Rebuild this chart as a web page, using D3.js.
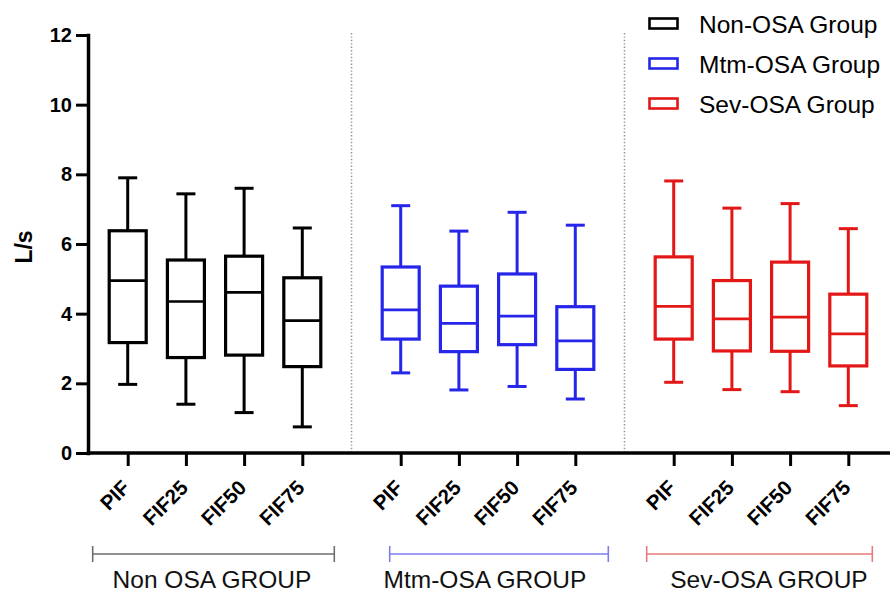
<!DOCTYPE html>
<html>
<head>
<meta charset="utf-8">
<script src="https://cdn.jsdelivr.net/npm/d3@7/dist/d3.min.js"></script>
<style>
  html, body { margin: 0; padding: 0; background: #fff; }
  svg { display: block; }
</style>
</head>
<body>
<svg id="chart"></svg>
<script>
// ---- data ----
const groups = ['Non OSA GROUP', 'Mtm-OSA GROUP', 'Sev-OSA GROUP'];
const legendNames = ['Non-OSA Group', 'Mtm-OSA Group', 'Sev-OSA Group'];
const metrics = ['PIF', 'FIF25', 'FIF50', 'FIF75'];
const yTicks = [0, 2, 4, 6, 8, 10, 12];

// [min, q1, median, q3, max] per metric
const nonStats = [
  [1.97, 3.17, 4.95, 6.38, 7.90],
  [1.40, 2.74, 4.35, 5.54, 7.44],
  [1.16, 2.81, 4.61, 5.65, 7.60],
  [0.75, 2.48, 3.80, 5.03, 6.46],
];
const mtmStats = [
  [2.30, 3.27, 4.11, 5.34, 7.10],
  [1.81, 2.91, 3.72, 4.79, 6.37],
  [1.91, 3.11, 3.93, 5.14, 6.91],
  [1.55, 2.40, 3.22, 4.20, 6.54],
];
const sevStats = [
  [2.03, 3.27, 4.21, 5.63, 7.81],
  [1.82, 2.93, 3.85, 4.95, 7.03],
  [1.76, 2.92, 3.90, 5.48, 7.16],
  [1.36, 2.50, 3.42, 4.56, 6.44],
];

// ---- styling / layout ----
const W = 890, H = 594;
const colors = ['#000000', '#2626ea', '#e41717'];
const bracketColors = ['#6e6e6e', '#7d7df0', '#ea7a7a'];
const bracketPad = [[-35, 32], [-11, 33], [-27, 24]];  // brackets don't sit symmetric in the original
const labelShift = [-3, -3, 8];
const FONT = '"Liberation Sans", Arial, sans-serif';

const allStats = [nonStats, mtmStats, sevStats];

const svg = d3.select('#chart').attr('width', W).attr('height', H)
  .style('font-family', FONT);

const y = d3.scaleLinear().domain([0, 12]).range([453, 35]);
const xGroup = d3.scaleBand().domain(groups).range([78.5, 897.5]);
const xInner = d3.scalePoint().domain(metrics).range([-87.3, 87.3]);
const gx = g => xGroup(g) + xGroup.bandwidth() / 2;

// separators between groups
svg.append('g').selectAll('line').data(groups.slice(1)).join('line')
  .attr('x1', d => xGroup(d)).attr('x2', d => xGroup(d))
  .attr('y1', y(12) - 2).attr('y2', y(0))
  .attr('stroke', '#9a9a9a').attr('stroke-width', 1.6)
  .attr('stroke-dasharray', '1.4,2');

// y axis
const yAxis = svg.append('g').attr('transform', 'translate(88,0)')
  .call(d3.axisLeft(y).tickValues(yTicks).tickSize(12).tickSizeOuter(0).tickPadding(4));
yAxis.select('.domain').attr('stroke-width', 3.5).attr('stroke-linecap', 'square');
yAxis.selectAll('.tick line').attr('stroke-width', 3);
yAxis.selectAll('.tick text').attr('font-size', 20).attr('font-weight', 700)
  .attr('font-family', FONT).attr('fill', '#000');

svg.append('text')
  .attr('transform', `translate(32,${(y(12) + y(0)) / 2 + 3}) rotate(-90)`)
  .attr('text-anchor', 'middle')
  .attr('font-size', 23).attr('font-weight', 700)
  .text('L/s');

// x axis line
svg.append('line')
  .attr('x1', 87).attr('x2', W).attr('y1', y(0)).attr('y2', y(0))
  .attr('stroke', '#000').attr('stroke-width', 3.5);

// x axis per group
groups.forEach(gname => {
  const ax = svg.append('g').attr('transform', `translate(${gx(gname)},${y(0)})`)
    .call(d3.axisBottom(xInner).tickSize(13).tickSizeOuter(0));
  ax.select('.domain').remove();
  ax.selectAll('.tick line').attr('stroke-width', 3);
  ax.selectAll('.tick text')
    .attr('x', 0).attr('y', 0).attr('dy', 0)
    .attr('transform', 'translate(3,36) rotate(-45)')
    .style('text-anchor', 'end')
    .attr('font-size', 20.5).attr('font-weight', 700)
    .attr('font-family', FONT).attr('fill', '#000');
});

// boxes
const boxW = 37, capW = 19;
groups.forEach((gname, gi) => {
  const col = colors[gi];
  const sel = svg.append('g').selectAll('g')
    .data(allStats[gi].map((s, i) => ({ m: metrics[i], s })))
    .join('g')
    .attr('transform', d => `translate(${gx(gname) + xInner(d.m)},0)`);

  // whiskers
  sel.append('line').attr('x1', 0).attr('x2', 0)
    .attr('y1', d => y(d.s[0])).attr('y2', d => y(d.s[1]))
    .attr('stroke', col).attr('stroke-width', 3);
  sel.append('line').attr('x1', 0).attr('x2', 0)
    .attr('y1', d => y(d.s[3])).attr('y2', d => y(d.s[4]))
    .attr('stroke', col).attr('stroke-width', 3);
  // caps
  sel.append('line').attr('x1', -capW / 2).attr('x2', capW / 2)
    .attr('y1', d => y(d.s[0])).attr('y2', d => y(d.s[0]))
    .attr('stroke', col).attr('stroke-width', 3);
  sel.append('line').attr('x1', -capW / 2).attr('x2', capW / 2)
    .attr('y1', d => y(d.s[4])).attr('y2', d => y(d.s[4]))
    .attr('stroke', col).attr('stroke-width', 3);
  // box
  sel.append('rect')
    .attr('x', -boxW / 2).attr('width', boxW)
    .attr('y', d => y(d.s[3])).attr('height', d => y(d.s[1]) - y(d.s[3]))
    .attr('fill', 'none').attr('stroke', col).attr('stroke-width', 3.2);
  // median
  sel.append('line').attr('x1', -boxW / 2).attr('x2', boxW / 2)
    .attr('y1', d => y(d.s[2])).attr('y2', d => y(d.s[2]))
    .attr('stroke', col).attr('stroke-width', 2.6);
});

// group brackets and labels
const bY = 554;
groups.forEach((gname, gi) => {
  const x0 = gx(gname) + xInner(metrics[0]) + bracketPad[gi][0];
  const x1 = gx(gname) + xInner(metrics[metrics.length - 1]) + bracketPad[gi][1];
  const c = bracketColors[gi];
  const b = svg.append('g').attr('stroke', c).attr('stroke-width', 1.6);
  b.append('line').attr('x1', x0).attr('x2', x1).attr('y1', bY).attr('y2', bY);
  b.append('line').attr('x1', x0).attr('x2', x0).attr('y1', bY - 8).attr('y2', bY + 8);
  b.append('line').attr('x1', x1).attr('x2', x1).attr('y1', bY - 8).attr('y2', bY + 8);
  svg.append('text')
    .attr('x', gx(gname) + labelShift[gi]).attr('y', 588)
    .attr('text-anchor', 'middle')
    .attr('font-size', 24.5).attr('fill', '#111')
    .text(gname);
});

// legend
const leg = svg.append('g').selectAll('g').data(legendNames).join('g')
  .attr('transform', (d, i) => `translate(648,${23.5 + i * 40})`);
leg.append('rect').attr('x', 1.5).attr('y', -5).attr('width', 28).attr('height', 10)
  .attr('fill', 'none').attr('stroke', (d, i) => colors[i]).attr('stroke-width', 2.6);
leg.append('text').attr('x', 51).attr('y', 9.5)
  .attr('font-size', 24.5).attr('fill', '#000')
  .text(d => d);
</script>
</body>
</html>
